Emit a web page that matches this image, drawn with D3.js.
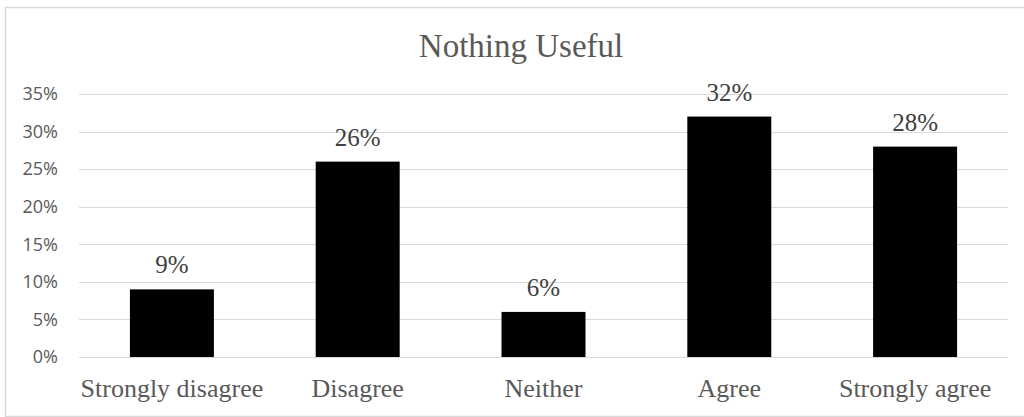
<!DOCTYPE html>
<html>
<head>
<meta charset="utf-8">
<script src="https://cdn.jsdelivr.net/npm/d3@7"></script>
<style>
  html, body { margin: 0; padding: 0; background: #fff; }
  svg { display: block; }
</style>
</head>
<body>
<svg id="chart" width="1024" height="417"></svg>
<script>
// Survey responses for "Nothing Useful"
const categories = ["Strongly disagree", "Disagree", "Neither", "Agree", "Strongly agree"];
const values = [9, 26, 6, 32, 28];
const yTicks = [0, 5, 10, 15, 20, 25, 30, 35];
const title = "Nothing Useful";

const svg = d3.select("#chart");
const W = 1024, H = 417;
const margin = { left: 79, right: 16, top: 94, bottom: 60 };
const serif = "'Liberation Serif', 'Times New Roman', serif";

// chart frame
svg.append("rect")
  .attr("x", 5.5).attr("y", 7.5)
  .attr("width", 1030).attr("height", 409)
  .attr("fill", "#fff")
  .attr("stroke", "#d9d9d9").attr("stroke-width", 1.5);

const x = d3.scaleBand()
  .domain(categories)
  .range([margin.left, W - margin.right])
  .paddingInner(0.548)
  .paddingOuter(0.274);

const y = d3.scaleLinear()
  .domain([0, 35])
  .range([357, 94]);

// gridlines
svg.append("g")
  .selectAll("line")
  .data(yTicks)
  .join("line")
  .attr("x1", margin.left).attr("x2", W - margin.right)
  .attr("y1", d => Math.round(y(d)) + 0.5).attr("y2", d => Math.round(y(d)) + 0.5)
  .attr("stroke", "#d9d9d9").attr("stroke-width", 1.2);

// y axis labels
const yAxis = d3.axisLeft(y).tickValues(yTicks).tickFormat(d => d + "%").tickSize(0).tickPadding(0);
const yg = svg.append("g").attr("transform", `translate(58,0)`).call(yAxis);
yg.select(".domain").remove();
yg.selectAll("text")
  .attr("fill", "#595959")
  .style("font-family", "'Open Sans', 'Liberation Sans', sans-serif")
  .style("font-size", "18px");

// bars
svg.append("g")
  .selectAll("rect")
  .data(values)
  .join("rect")
  .attr("x", (d, i) => x(categories[i]))
  .attr("y", d => y(d))
  .attr("width", x.bandwidth())
  .attr("height", d => y(0) - y(d))
  .attr("fill", "#000");

// value labels
svg.append("g")
  .selectAll("text")
  .data(values)
  .join("text")
  .attr("x", (d, i) => x(categories[i]) + x.bandwidth() / 2)
  .attr("y", d => y(d) - 16)
  .attr("text-anchor", "middle")
  .attr("fill", "#404040")
  .style("font-family", serif)
  .style("font-size", "25px")
  .text(d => d + "%");

// category axis
const xAxis = d3.axisBottom(x).tickSize(0).tickPadding(0);
const xg = svg.append("g").attr("transform", `translate(0,397)`).call(xAxis);
xg.select(".domain").remove();
xg.selectAll("text")
  .attr("dy", 0)
  .attr("fill", "#595959")
  .style("font-family", serif)
  .style("font-size", "26px");

// title
svg.append("text")
  .attr("x", 521)
  .attr("y", 57)
  .attr("text-anchor", "middle")
  .attr("fill", "#595959")
  .style("font-family", serif)
  .style("font-size", "33px")
  .text(title);
</script>
</body>
</html>
